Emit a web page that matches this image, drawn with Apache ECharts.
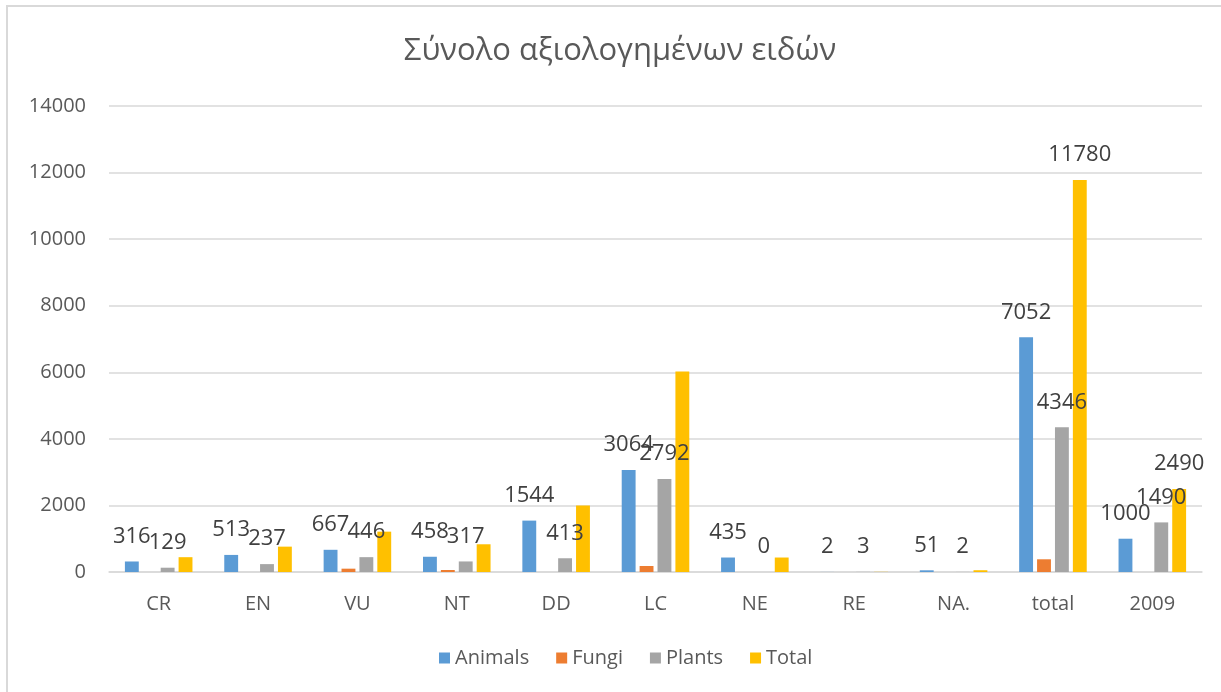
<!DOCTYPE html>
<html>
<head>
<meta charset="utf-8">
<script src="https://cdn.jsdelivr.net/npm/echarts@6/dist/echarts.min.js"></script>
<style>
html,body{margin:0;padding:0;background:#fff;}
#main{width:1221px;height:692px;}
</style>
</head>
<body>
<div id="main"></div>
<script>
const categories = ['CR','EN','VU','NT','DD','LC','NE','RE','NA.','total','2009'];
const animals = [316, 513, 667, 458, 1544, 3064, 435, 2, 51, 7052, 1000];
const fungi   = [0, 0, 100, 60, 0, 180, 0, 0, 0, 382, 0];
const plants  = [129, 237, 446, 317, 413, 2792, 0, 3, 2, 4346, 1490];
const totals  = [445, 762, 1212, 833, 2000, 6026, 435, 5, 53, 11780, 2490];
const totalLabelled = ['total', '2009'];
const yTicks = [0, 2000, 4000, 6000, 8000, 10000, 12000, 14000];

const FONT = '"Open Sans", "DejaVu Sans", sans-serif';
const labelStyle = {show: true, position: 'top', distance: 14, color: '#404040', fontSize: 22, fontFamily: FONT};

const chart = echarts.init(document.getElementById('main'), null, {renderer: 'canvas'});
chart.setOption({
  backgroundColor: '#fff',
  animation: false,
  color: ['#5B9BD5', '#ED7D31', '#A5A5A5', '#FFC000'],
  title: {
    text: 'Σύνολο αξιολογημένων ειδών',
    left: 615, top: 31, textAlign: 'center',
    textStyle: {color: '#595959', fontSize: 31, fontWeight: 'normal', fontFamily: FONT}
  },
  graphic: [{
    type: 'rect', shape: {x: 7, y: 6, width: 1230, height: 700},
    style: {fill: 'none', stroke: '#d9d9d9', lineWidth: 2}, silent: true
  }],
  legend: {
    bottom: 19, left: 434, itemWidth: 11, itemHeight: 11, itemGap: 27,
    icon: 'rect',
    textStyle: {color: '#595959', fontSize: 20, fontFamily: FONT},
    data: ['Animals', 'Fungi', 'Plants', 'Total']
  },
  grid: {left: 109, right: 19, top: 106, bottom: 120, containLabel: false},
  xAxis: {
    type: 'category', data: categories,
    axisLine: {lineStyle: {color: '#d9d9d9', width: 1.5}},
    axisTick: {show: false},
    axisLabel: {color: '#595959', fontSize: 20, fontFamily: FONT, margin: 22}
  },
  yAxis: {
    type: 'value', min: yTicks[0], max: yTicks[yTicks.length - 1], interval: 2000,
    axisLine: {show: false}, axisTick: {show: false},
    splitLine: {lineStyle: {color: '#d9d9d9', width: 1.5}},
    axisLabel: {color: '#595959', fontSize: 20, fontFamily: FONT, margin: 23, formatter: v => String(v)}
  },
  series: [
    {name: 'Animals', type: 'bar', data: animals, barGap: '29%', barCategoryGap: '32%', label: labelStyle},
    {name: 'Fungi', type: 'bar', data: fungi},
    {name: 'Plants', type: 'bar', data: plants, label: labelStyle},
    {name: 'Total', type: 'bar',
     data: totals.map((v, i) => totalLabelled.includes(categories[i]) ? {value: v, label: labelStyle} : v)}
  ]
});
</script>
</body>
</html>
